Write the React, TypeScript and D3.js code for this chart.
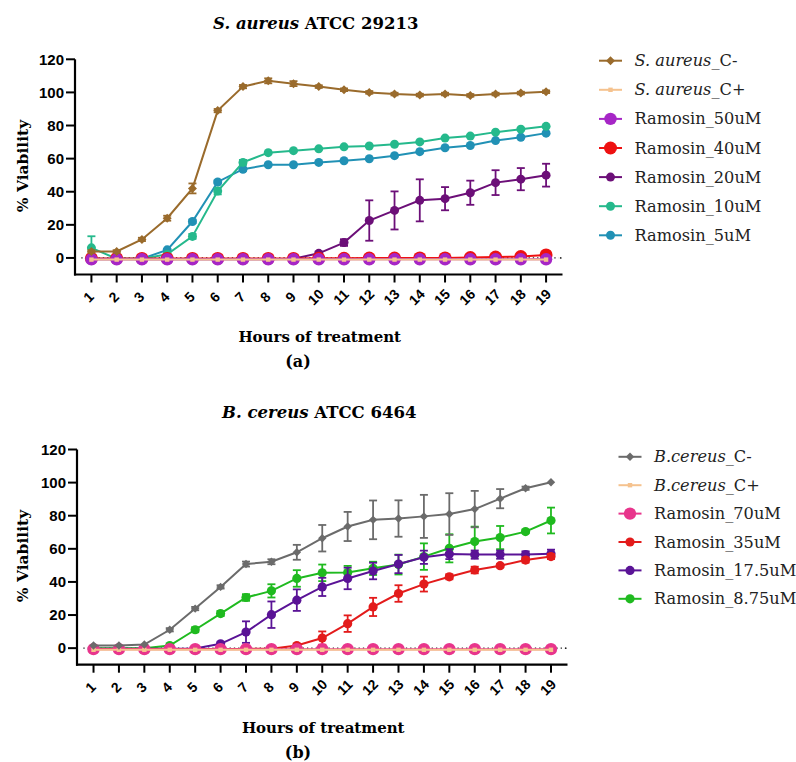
import React from "react";
import * as d3 from "d3";

// hours on the x axis
const hours = [1, 2, 3, 4, 5, 6, 7, 8, 9, 10, 11, 12, 13, 14, 15, 16, 17, 18, 19];
const yTicks = [0, 20, 40, 60, 80, 100, 120];

// (a) S. aureus ATCC 29213
const saurCNeg = [3.9, 3.9, 11.2, 24, 42, 89, 103.5, 107, 105.3, 103.5, 101.6, 100, 99, 98.4, 99, 98.2, 99, 99.6, 100.4];
const saurCNegErr = [0.8, 0.8, 1, 1.5, 3, 1, 1, 1.5, 1.5, 0.8, 0.8, 0.8, 0.8, 0.8, 0.8, 0.8, 0.8, 0.8, 0.8];
const saurCPos = [-1, -1, -1, -1, -1, -1, -1, -1, -1, -1, -1, -1, -1, -1, -1, -1, -1, -1, -1];
const saur50 = [-0.8, -0.8, -0.8, -0.8, -0.8, -0.8, -0.8, -0.8, -0.8, -0.8, -0.8, -0.8, -0.8, -0.8, -0.8, -0.8, -0.8, -0.8, -0.8];
const saur40 = [-0.3, -0.3, -0.3, -0.3, -0.3, -0.3, -0.3, -0.3, -0.3, -0.2, -0.2, -0.1, -0.1, 0, 0, 0.2, 0.5, 0.8, 1.8];
const saur20 = [-0.8, -0.8, -0.8, -0.8, -0.8, -0.8, -0.8, -0.8, -0.5, 2.8, 9.3, 22.6, 28.7, 34.8, 35.8, 39.4, 45.5, 47.6, 50];
const saur20Err = [0, 0, 0, 0, 0, 0, 0, 0, 0, 1, 2, 12.2, 11.5, 12.7, 7, 7.3, 7.5, 6.7, 6.9];
const saur10 = [6.1, -0.5, -0.5, 2.2, 13, 40.4, 57.7, 63.6, 64.8, 65.9, 67.1, 67.6, 68.7, 70.1, 72.4, 73.6, 76, 77.8, 79.5];
const saur10Err = [7, 0, 0, 0.5, 1.5, 2, 1.5, 0.5, 0.5, 0.5, 0.5, 0.5, 0.5, 0.5, 0.5, 0.5, 0.5, 0.5, 0.5];
const saur5 = [-0.5, -0.5, -0.5, 4.9, 22, 45.9, 53.6, 56.3, 56.3, 57.7, 58.7, 59.9, 61.8, 64.2, 66.6, 67.9, 70.9, 72.9, 75.4];
const saur5Err = [0, 0, 0, 0.5, 1, 1, 1, 0.5, 0.5, 0.5, 0.5, 0.5, 0.5, 0.5, 0.5, 0.5, 0.5, 0.5, 0.5];

// (b) B. cereus ATCC 6464
const bcCNeg = [1.6, 1.6, 2.2, 11.1, 23.9, 37, 50.8, 52.2, 57.9, 66.4, 73.5, 77.5, 78.3, 79.6, 81, 84, 90.3, 96.6, 100.2];
const bcCNegErr = [0.5, 0.5, 0.5, 1, 1, 1, 1.5, 1.5, 4.5, 8, 8.8, 11.7, 11, 13, 12.6, 11, 5.8, 1, 0.5];
const bcCPos = [-1, -1, -1, -1, -1, -1, -1, -1, -1, -1, -1, -1, -1, -1, -1, -1, -1, -1, -1];
const bc70 = [-0.6, -0.6, -0.6, -0.6, -0.6, -0.6, -0.6, -0.6, -0.6, -0.6, -0.6, -0.6, -0.6, -0.6, -0.6, -0.6, -0.6, -0.6, -0.6];
const bc35 = [-0.5, -0.5, -0.5, -0.5, -0.5, -0.5, -0.5, -0.3, 1.6, 6.1, 14.8, 24.9, 33, 38.7, 43.1, 47.2, 49.8, 53.2, 55.3];
const bc35Err = [0, 0, 0, 0, 0, 0, 0, 0, 1, 4, 5, 5.5, 5, 4.5, 1.5, 2, 1, 1.5, 1.5];
const bc175 = [-0.3, -0.3, -0.3, -0.3, -0.2, 2.6, 9.7, 20.2, 29, 37, 42.1, 46.6, 50.8, 54.9, 56.8, 56.5, 56.5, 56.5, 57];
const bc175Err = [0, 0, 0, 0, 0, 1, 6.5, 8, 6.5, 5.5, 6.5, 5, 5.5, 4, 3, 2.5, 2.5, 2, 2.5];
const bc875 = [0, 0, 0, 1.6, 11.1, 20.9, 30.6, 34.6, 42.1, 45.5, 45.7, 48.2, 50.5, 55.3, 60.3, 64.4, 66.8, 70.4, 77.1];
const bc875Err = [0, 0, 0, 0.5, 1.5, 1.5, 2, 4, 5, 5, 4, 4, 6, 8, 8.5, 9, 7, 1, 7.8];

const SERIF = "'DejaVu Serif', serif";
const SANS = "'Liberation Sans', Arial, sans-serif";

type Series = {
  italic?: string;
  label: string;
  values: number[];
  err?: number[];
  color: string;
  shape: "diamond" | "square" | "circle";
  size: number;
};

const seriesA: Series[] = [
  { italic: "S. aureus", label: "_C-", values: saurCNeg, err: saurCNegErr, color: "#9A6B2C", shape: "diamond", size: 4.5 },
  { italic: "S. aureus", label: "_C+", values: saurCPos, color: "#F5C28E", shape: "square", size: 2.2 },
  { label: "Ramosin_50uM", values: saur50, color: "#A626C6", shape: "circle", size: 6.2 },
  { label: "Ramosin_40uM", values: saur40, color: "#EE1111", shape: "circle", size: 6.5 },
  { label: "Ramosin_20uM", values: saur20, err: saur20Err, color: "#6C0F78", shape: "circle", size: 4.5 },
  { label: "Ramosin_10uM", values: saur10, err: saur10Err, color: "#25B98C", shape: "circle", size: 4.5 },
  { label: "Ramosin_5uM", values: saur5, err: saur5Err, color: "#2191B5", shape: "circle", size: 4.5 },
];

const seriesB: Series[] = [
  { italic: "B.cereus", label: "_C-", values: bcCNeg, err: bcCNegErr, color: "#6B6B6B", shape: "diamond", size: 4.2 },
  { italic: "B.cereus", label: "_C+", values: bcCPos, color: "#F5C28E", shape: "square", size: 2.2 },
  { label: "Ramosin_70uM", values: bc70, color: "#E8358C", shape: "circle", size: 6.2 },
  { label: "Ramosin_35uM", values: bc35, err: bc35Err, color: "#E31B1B", shape: "circle", size: 4.6 },
  { label: "Ramosin_17.5uM", values: bc175, err: bc175Err, color: "#5A1396", shape: "circle", size: 4.6 },
  { label: "Ramosin_8.75uM", values: bc875, err: bc875Err, color: "#1FBA1F", shape: "circle", size: 4.6 },
];

function Marker({ s, x, y }: { s: Series; x: number; y: number }) {
  if (s.shape === "circle") return <circle cx={x} cy={y} r={s.size} fill={s.color} />;
  if (s.shape === "square")
    return <rect x={x - s.size} y={y - s.size} width={s.size * 2} height={s.size * 2} fill={s.color} />;
  const r = s.size;
  const p = d3.path();
  p.moveTo(x, y - r);
  p.lineTo(x + r, y);
  p.lineTo(x, y + r);
  p.lineTo(x - r, y);
  p.closePath();
  return <path d={p.toString()} fill={s.color} />;
}

type PanelProps = {
  series: Series[];
  titleItalic: string;
  titleRest: string;
  titleY: number;
  xRange: [number, number];
  yRange: [number, number];
  yLabelY: number;
  xLabelY: number;
  tagY: number;
  tag: string;
  legendX: number;
  legendY: number;
  legendStep: number;
};

function Panel(p: PanelProps) {
  const x = d3.scaleLinear().domain([0.35, 19.65]).range(p.xRange);
  const y = d3.scaleLinear().domain([-10, 120]).range(p.yRange);
  const line = d3
    .line<number>()
    .x((_, i) => x(hours[i]))
    .y((d) => y(d));
  const [x0, x1] = p.xRange;
  const [yb, yt] = p.yRange;
  const midX = (x(1) + x(19)) / 2;

  return (
    <g>
      <text x={midX - 3} y={p.titleY} textAnchor="middle" fontFamily={SERIF} fontWeight="bold" fontSize={16.5}>
        <tspan fontStyle="italic">{p.titleItalic}</tspan>
        {p.titleRest}
      </text>

      {/* zero reference */}
      <line x1={x(0.6)} x2={x(19.5)} y1={y(0)} y2={y(0)} stroke="#222" strokeWidth={1.3} strokeDasharray="1.3,3" />
      <circle cx={x(19.58)} cy={y(0)} r={0.9} fill="#222" />

      {/* series, drawn last-to-first so controls sit on top */}
      {[...p.series].reverse().map((s, k) => (
        <g key={k}>
          {s.err &&
            s.values.map((v, i) =>
              s.err![i] > 0.6 ? (
                <g key={i} stroke={s.color} strokeWidth={1.8}>
                  <line x1={x(hours[i])} x2={x(hours[i])} y1={y(v - s.err![i])} y2={y(v + s.err![i])} />
                  <line x1={x(hours[i]) - 4} x2={x(hours[i]) + 4} y1={y(v - s.err![i])} y2={y(v - s.err![i])} />
                  <line x1={x(hours[i]) - 4} x2={x(hours[i]) + 4} y1={y(v + s.err![i])} y2={y(v + s.err![i])} />
                </g>
              ) : null
            )}
          <path d={line(s.values) || ""} fill="none" stroke={s.color} strokeWidth={2} />
          {s.values.map((v, i) => (
            <Marker key={i} s={s} x={x(hours[i])} y={y(v)} />
          ))}
        </g>
      ))}

      {/* axes */}
      <line x1={x0} x2={x0} y1={yb + 1} y2={yt} stroke="#000" strokeWidth={2.2} />
      <line x1={x0 - 1} x2={x1} y1={yb} y2={yb} stroke="#000" strokeWidth={2.2} />
      {yTicks.map((t) => (
        <g key={t}>
          <line x1={x0 - 9} x2={x0} y1={y(t)} y2={y(t)} stroke="#000" strokeWidth={2} />
          <text x={x0 - 11} y={y(t) + 5.3} textAnchor="end" fontFamily={SANS} fontWeight="bold" fontSize={15}>
            {t}
          </text>
        </g>
      ))}
      {hours.map((h) => (
        <g key={h}>
          <line x1={x(h)} x2={x(h)} y1={yb} y2={yb + 8} stroke="#000" strokeWidth={2} />
          <text
            transform={`translate(${x(h) - 3},${yb + 22.5}) rotate(-45)`}
            textAnchor="middle"
            dominantBaseline="central"
            fontFamily={SANS}
            fontWeight="bold"
            fontSize={14}
          >
            {h}
          </text>
        </g>
      ))}

      <text
        transform={`translate(22,${p.yLabelY}) rotate(-90)`}
        textAnchor="middle"
        dominantBaseline="central"
        fontFamily={SERIF}
        fontWeight="bold"
        fontSize={15.5}
      >
        % Viability
      </text>
      <text x={midX + 1} y={p.xLabelY} textAnchor="middle" fontFamily={SERIF} fontWeight="bold" fontSize={15}>
        Hours of treatment
      </text>
      <text x={298} y={p.tagY} textAnchor="middle" fontFamily={SERIF} fontWeight="bold" fontSize={16}>
        {p.tag}
      </text>

      {/* legend */}
      {p.series.map((s, i) => {
        const ly = p.legendY + i * p.legendStep;
        return (
          <g key={i}>
            <line x1={p.legendX - 11.5} x2={p.legendX + 11.5} y1={ly} y2={ly} stroke={s.color} strokeWidth={2} />
            <Marker s={s} x={p.legendX} y={ly} />
            <text x={p.legendX + 24} y={ly + 5.5} fontFamily={SERIF} fontSize={16.2} fill="#222">
              {s.italic && <tspan fontStyle="italic">{s.italic}</tspan>}
              {s.label}
            </text>
          </g>
        );
      })}
    </g>
  );
}

export default function App() {
  return (
    <svg
      width={796}
      height={762}
      style={{ position: "absolute", left: 0, top: 0, background: "#fff" }}
    >
      <rect width={796} height={762} fill="#fff" />
      <Panel
        series={seriesA}
        titleItalic="S. aureus"
        titleRest=" ATCC 29213"
        titleY={28.5}
        xRange={[75, 562.5]}
        yRange={[274.5, 59.3]}
        yLabelY={166}
        xLabelY={341.5}
        tagY={367}
        tag="(a)"
        legendX={610.5}
        legendY={60.7}
        legendStep={29.1}
      />
      <Panel
        series={seriesB}
        titleItalic="B. cereus"
        titleRest=" ATCC 6464"
        titleY={418}
        xRange={[77, 567.5]}
        yRange={[664.7, 449.5]}
        yLabelY={556}
        xLabelY={732.5}
        tagY={758}
        tag="(b)"
        legendX={630}
        legendY={456.8}
        legendStep={28.4}
      />
    </svg>
  );
}
